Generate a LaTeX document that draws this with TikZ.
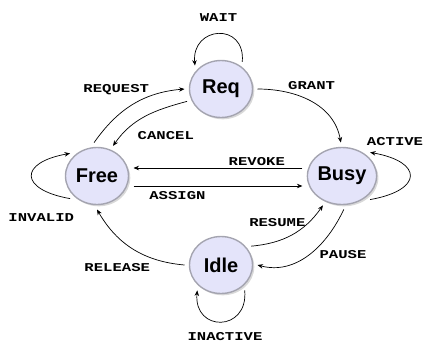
\documentclass[tikz,border=0pt]{standalone}
\usepackage{fontspec}
\usepackage{tikz}
\usetikzlibrary{positioning, arrows.meta, shapes.geometric, shadows}
\newfontfamily\statefont{Liberation Sans}
\newfontfamily\labelfont{Liberation Mono}[FakeStretch=1.3]

\definecolor{statefill}{HTML}{E4E4FA}
\definecolor{stateline}{HTML}{A4A4B0}

\begin{document}
\begin{tikzpicture}[
  x=1pt, y=-1pt,
  state/.style={ellipse, draw=stateline, line width=1.4pt, fill=statefill, minimum width=63pt, minimum height=57pt, inner sep=0pt, outer sep=5pt, font=\statefont\bfseries\fontsize{20}{24}\selectfont, drop shadow={opacity=0.3, shadow xshift=1.8pt, shadow yshift=-1.8pt}},
  lbl/.style={font=\labelfont\bfseries\fontsize{12}{14}\selectfont, inner sep=2pt},
  trans/.style={-{Stealth[length=5.5pt, width=4.5pt]}, line width=0.7pt}
  ]
\useasboundingbox (0,0) rectangle (426,349);

\node[state] (req) at (221,89) {Req};
\node[state, on grid, below left=87pt and 124pt of req] (free) {Free};
\node[state, on grid, below right=87pt and 121pt of req] (busy) {Busy};
\node[state, on grid, below=176pt of req] (idle) {Idle};

% Free <-> Req
\draw[trans] (free.95) to[out=55, in=185] node[lbl, pos=0.3, above=20pt] (lrequest) {REQUEST} (req.west);
\draw[trans] (req.200) to[out=195, in=55] node[lbl, pos=0.7, below right=3pt and 4pt] (lcancel) {CANCEL} (free.62);
\draw[trans] (req.52) to[out=85, in=95, distance=40pt] node[lbl, above=10pt] (lwait) {WAIT} (req.138);

% Req -> Busy
\draw[trans] (req.east) to[out=0, in=100] node[lbl, pos=0.25, anchor=south west] (lgrant) {GRANT} (busy.92);
\draw[trans] (busy.-40) to[out=10, in=-10, distance=54pt] node[lbl, pos=0.75, above=14pt, xshift=-5pt] (lactive) {ACTIVE} (busy.40);

% Free <-> Busy
\draw[trans] ([yshift=8pt]busy.west) -- node[lbl, pos=0.27, above] (lrevoke) {REVOKE} ([yshift=8pt]free.east);
\draw[trans] ([yshift=-10pt]free.east) -- node[lbl, pos=0.26, below=3pt] (lassign) {ASSIGN} ([yshift=-10pt]busy.west);
\draw[trans] (free.220) to[out=170, in=190, distance=52pt] node[lbl, pos=0.25, below=22pt] (linvalid) {INVALID} (free.140);

% Idle
\draw[trans] (idle.west) to[out=175, in=-60] node[lbl, pos=0.5, below=12pt, xshift=-16pt] (lrelease) {RELEASE} (free.south);
\draw[trans] (idle.32) to[out=5, in=235] node[lbl, pos=0.3, above=12pt] (lresume) {RESUME} (busy.237);
\draw[trans] (busy.273) to[out=245, in=-15] node[lbl, pos=0.4, anchor=north west] (lpause) {PAUSE} (idle.east);
\draw[trans] (idle.-47) to[out=-85, in=-95, distance=42pt] node[lbl, below=8pt, xshift=4pt] (linactive) {INACTIVE} (idle.-133);
\end{tikzpicture}
\end{document}
